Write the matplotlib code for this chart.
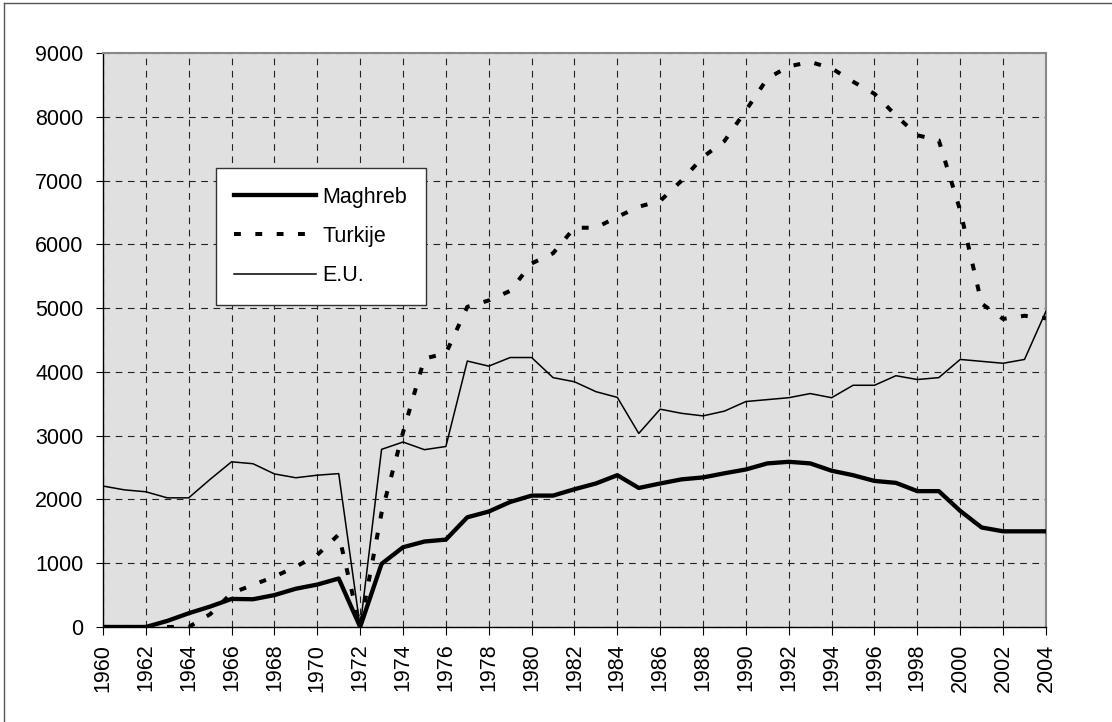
import numpy as np
import matplotlib
matplotlib.use("Agg")
import matplotlib.pyplot as plt
from matplotlib.lines import Line2D

plt.rcParams['font.family'] = ['Liberation Sans', 'DejaVu Sans']

# Data
years = list(range(1960, 2005))

maghreb = [0, 0, 0, 95, 215, 320, 440, 435, 500, 600, 665, 760,
           0, 990, 1250, 1340, 1370, 1720, 1810, 1960, 2060, 2060,
           2160, 2250, 2380, 2180, 2250, 2315, 2345, 2410, 2470, 2565,
           2590, 2565, 2450, 2380, 2290, 2260, 2130, 2130, 1820, 1560,
           1500, 1500, 1500]

turkije = [0, 0, 0, 0, 0, 200, 530, 660, 790, 945, 1130, 1450,
           0, 1790, 3050, 4210, 4290, 5020, 5120, 5270, 5700, 5860,
           6260, 6260, 6430, 6590, 6680, 7000, 7370, 7620, 8100, 8600,
           8790, 8860, 8760, 8550, 8360, 8020, 7710, 7630, 6530, 5070,
           4830, 4880, 4840]

eu = [2210, 2150, 2120, 2025, 2025, 2315, 2590, 2560, 2400, 2340, 2380, 2405,
      0, 2785, 2900, 2780, 2830, 4170, 4090, 4225, 4225, 3910,
      3845, 3690, 3600, 3035, 3415, 3350, 3310, 3385, 3535, 3565,
      3595, 3660, 3595, 3790, 3790, 3940, 3880, 3910, 4195, 4165,
      4135, 4195, 4950]

fig = plt.figure(figsize=(11.12, 7.22), dpi=100)
ax = fig.add_axes([0.0926, 0.1316, 0.848, 0.795])
ax.set_facecolor('#e0e0e0')

ax.plot(years, eu, color='black', lw=1.1, label='E.U.', zorder=3)
ax.plot(years, turkije, color='black', lw=2.9, linestyle=(0, (1.7, 3.6)),
        label='Turkije', zorder=4)
ax.plot(years, maghreb, color='black', lw=3.1, label='Maghreb', zorder=5)

ax.set_xlim(1960, 2004)
ax.set_ylim(0, 9000)
ax.set_xticks(range(1960, 2005, 2))
ax.set_yticks(range(0, 9001, 1000))
ax.tick_params(axis='x', labelrotation=90, labelsize=15.5, length=6,
               direction='out', pad=6)
ax.tick_params(axis='y', labelsize=15.5, length=5, direction='out', pad=9)

ax.grid(True, color='#222222', linestyle=(0, (6, 5)), linewidth=0.8, zorder=1)
ax.set_axisbelow(True)

for side in ['top', 'right']:
    ax.spines[side].set_color('#888888')
    ax.spines[side].set_linewidth(1.5)
for side in ['left', 'bottom']:
    ax.spines[side].set_color('black')
    ax.spines[side].set_linewidth(1.0)

# legend in the order Maghreb, Turkije, E.U.
handles, labels = ax.get_legend_handles_labels()
order = [2, 1, 0]
leg = ax.legend([handles[i] for i in order], [labels[i] for i in order],
                loc='upper left', bbox_to_anchor=(0.12, 0.799),
                borderaxespad=0, fontsize=15.5, fancybox=False, shadow=False,
                framealpha=1, edgecolor='#333333', handlelength=3.8,
                labelspacing=0.85, handletextpad=0.3, borderpad=0.85)
leg.get_frame().set_linewidth(1.0)
leg.set_zorder(10)

# partial outer frame (top and left edge)
fig.add_artist(Line2D([0.0036, 1.0], [0.9958, 0.9958], color='#555555', lw=1.0))
fig.add_artist(Line2D([0.0036, 0.0036], [0.0, 0.9958], color='#555555', lw=1.0))

fig.savefig('out.png', dpi=100)
